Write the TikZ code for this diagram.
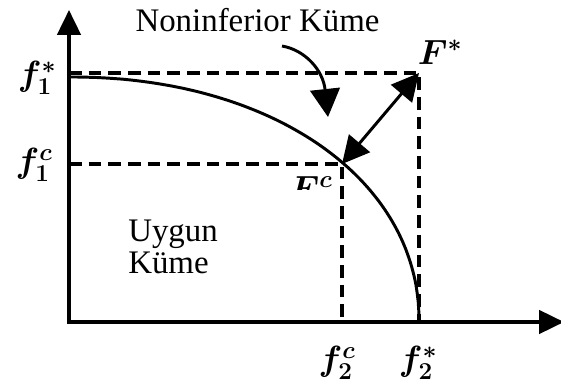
\documentclass[tikz,border=0pt]{standalone}
\usepackage{fontspec}
\setmainfont{Liberation Serif}
\usepackage{bm}
\usetikzlibrary{arrows.meta}

\begin{document}
\begin{tikzpicture}[
  x=0.025cm, y=0.025cm,
  axis/.style={line width=2.5pt,
               {Triangle[length=6.2mm, width=5.8mm]}-{Triangle[length=6.2mm, width=5.8mm]}},
  guide/.style={line width=2.2pt, dash pattern=on 9pt off 5pt},
  front/.style={line width=2.1pt},
  big/.style={-{Triangle[length=7mm, width=7.4mm]}, line width=2.1pt},
  both/.style={{Triangle[length=6.8mm, width=6.8mm]}-{Triangle[length=6.8mm, width=6.8mm]},
               line width=2.1pt},
  txt/.style={font=\fontsize{23.4}{22.7}\selectfont, inner sep=0pt},
  flbl/.style={font=\fontsize{26}{26}\selectfont, inner sep=0pt},
  Flbl/.style={font=\fontsize{23}{23}\selectfont, inner sep=0pt},
]
\clip (0,0) rectangle (561,388);
% points
\coordinate (O)    at (69,66);
\coordinate (ytip) at (69,378);
\coordinate (xtip) at (564,66);
\coordinate (Fs)   at (419,315);
\coordinate (Fc)   at (342,224);
\coordinate (bstart) at (282,342);
\coordinate (bend)   at (328,271);
% axes
\draw[axis] (ytip) |- (xtip);
% guides
\draw[guide] (O |- Fs) -- (Fs) -- (Fs |- O);
\draw[guide] (O |- Fc) -- (Fc) -- (Fc |- O);
% noninferior front
\draw[front] plot[smooth, samples=91, domain=0:90, variable=\t]
  ({69+350*pow(max(cos(\t),0.0001),0.952)}, {66+245*pow(max(sin(\t),0.0001),0.952)});
% arrows
\draw[both] (Fc) -- (Fs);
\draw[big] (bstart) .. controls (305,338) and (323,318) .. (bend);
% texts
\node[txt, anchor=base] (noninf) at (257.5,356) {Noninferior Küme};
\node[txt, anchor=north west, align=left] (uygun) at (128,168) {Uygun\\Küme};
\node[flbl] (f1s) at (37,310) {$\bm{f_1^*}$};
\node[flbl] (f1c) at (34,223) {$\bm{f_1^c}$};
\node[flbl] (f2c) at (337,25) {$\bm{f_2^c}$};
\node[flbl] (f2s) at (418,25) {$\bm{f_2^*}$};
\node[Flbl] (Fslbl) at (440,336) {$\bm{F^*}$};
\begin{scope}
  \clip (280,198) rectangle (345,216);
  \node[Flbl] (Fclbl) at (311,199.5) {$\bm{F^c}$};
\end{scope}
\end{tikzpicture}
\end{document}
